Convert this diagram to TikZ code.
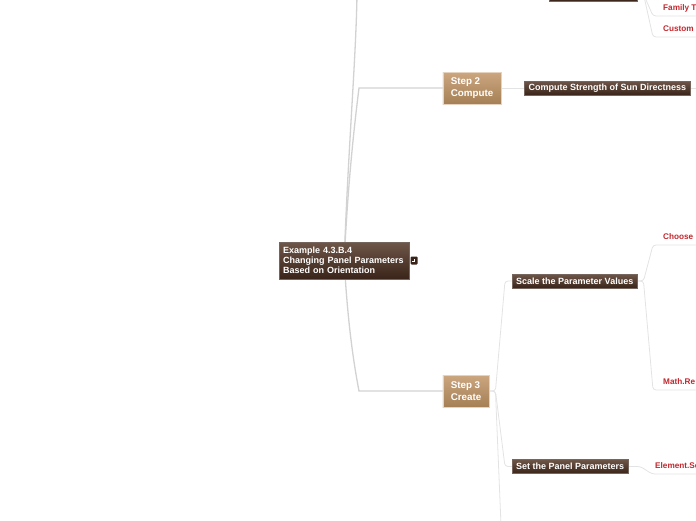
\documentclass[tikz,border=0pt]{standalone}
\usepackage{fontspec}
\setmainfont{Liberation Sans}
\usepackage{xcolor}
\definecolor{barktop}{HTML}{6E5749}
\definecolor{barkbot}{HTML}{3A2318}
\definecolor{tantop}{HTML}{CBA67F}
\definecolor{tanbot}{HTML}{A57F55}
\definecolor{twig}{HTML}{E3E3E3}
\definecolor{trunk}{HTML}{D2D2D2}
\definecolor{berry}{HTML}{C1272D}
\usetikzlibrary{positioning,backgrounds}

\begin{document}
\begin{tikzpicture}[x=1pt, y=-1pt, topic/.style={
					rectangle, top color = barktop, bottom color = barkbot, draw = barkbot!70, line width = 0.4pt,
					text = white, font = \bfseries\fontsize{9}{10}\selectfont, align = left,
					inner xsep = 4pt, inner ysep = 2pt, minimum height = 14pt},
		stepbox/.style={
					rectangle, top color = tantop, bottom color = tanbot, draw = tantop!50!white, line width = 0.4pt,
					text = white, font = \bfseries\fontsize{9.8}{12}\selectfont, align = left,
					inner xsep = 8pt, minimum height = 32pt},
		leaf/.style={anchor = south west, text = berry, font = \bfseries\fontsize{8.2}{9}\selectfont,
					inner xsep = 10pt, inner ysep = 4pt, text height = 6pt, text depth = 1pt},
		stem/.style={draw = trunk, line width = 1.3pt},
		twigline/.style={draw = twig, line width = 0.8pt, rounded corners = 3pt}]
		\clip (0,0) rectangle (696,520);
		\node (root) [topic, anchor=west, text width=122pt, minimum height=37pt] at (279,260.5) {Example 4.3.B.4\\Changing Panel Parameters\\Based on Orientation};
		\node (fold) [rectangle, fill=barkbot, rounded corners=1pt, minimum width=7pt, minimum height=8pt, inner sep=0pt, right=1pt of root.east,anchor=west] {};
		\draw[white, line width=0.6pt] ([xshift=-1.8pt,yshift=-1pt]fold.center) -- ++(1.8,0) -- ++(0,-2.5);
		\node (upper) [topic, anchor=south west, minimum width=88pt] at (549,1) {};
		\node (famt) [leaf] at (653,16) {Family T};
		\node (cust) [leaf] at (653,37) {Custom};
		\node (s2) [stepbox] at (472,88) {Step 2\\Compute};
		\node (sun) [topic, right=23pt of s2.east,anchor=west] {Compute Strength of Sun Directness};
		\coordinate (sunend) at (700,88);
		\node (s3) [stepbox] at (466,391) {Step 3\\Create};
		\coordinate (s3end) at (501,525);
		\node (scale) [topic, anchor=west] at (512,281) {Scale the Parameter Values};
		\node (choose) [leaf] at (653,245) {Choose};
		\node (mathre) [leaf] at (653,390) {Math.Re};
		\node (panel) [topic, anchor=west] at (512,466.5) {Set the Panel Parameters};
		\node (elem) [leaf, inner xsep=3pt] at (652,474) {Element.Se};
		\begin{scope}[on background layer]
		% trunk from the root
		\draw[stem] (root.center) .. controls (348,150) and (356,60) .. (357,-6);
		\draw[stem] (root.center) .. controls (348,180) and (355,120) .. (359,88) -- (s2.west);
		\draw[stem] (root.center) .. controls (348,330) and (355,370) .. (359,391) -- (s3.west);
		% branches
		\draw[twigline] (upper.east) -- ++(6,0) -- (famt.south west) -- (famt.south east);
		\draw[twigline] (upper.east) -- ++(6,0) -- (cust.south west) -- (cust.south east);
		\draw[twigline] (s2.east) -- (sun.west);
		\draw[twigline] (sun.east) -- (sunend);
		\draw[twigline] (s3.east) -- ++(6,0) -- (505,281) -- (scale.west);
		\draw[twigline] (s3.east) -- ++(6,0) -- (505,466.5) -- (panel.west);
		\draw[twigline] (s3.east) -- ++(6,0) -- (s3end);
		\draw[twigline] (scale.east) -- ++(6,0) -- (choose.south west) -- (choose.south east);
		\draw[twigline] (scale.east) -- ++(6,0) -- (mathre.south west) -- (mathre.south east);
		\draw[twigline] (panel.east) -- ++(12,0) -- (elem.south west) -- (elem.south east);
		\end{scope}
	\end{tikzpicture}
\end{document}
